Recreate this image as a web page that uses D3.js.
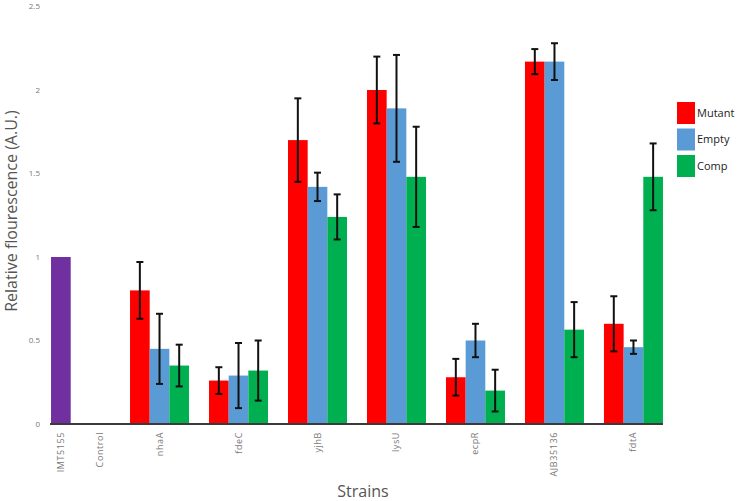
<!DOCTYPE html>
<html>
<head>
<meta charset="utf-8">
<script src="https://cdn.jsdelivr.net/npm/d3@7"></script>
<style>
  html, body { margin: 0; padding: 0; background: #fff; }
  svg { display: block; font-family: "Open Sans", "Noto Sans", sans-serif; }
</style>
</head>
<body>
<svg id="chart" width="744" height="501"></svg>
<script>
// ---- data ----
const groups = ["WT", "nhaA", "fdeC", "yjhB", "lysU", "ecpR", "AJB35136", "fdtA"];
const series = ["Mutant", "Empty", "Comp"];
const seriesColors = ["#FF0000", "#5B9BD5", "#00B050"];
const mutantValues = [null, 0.80, 0.26, 1.70, 2.00, 0.28, 2.17, 0.60];
const mutantErrors = [null, 0.17, 0.08, 0.25, 0.20, 0.11, 0.075, 0.165];
const emptyValues  = [null, 0.45, 0.29, 1.42, 1.89, 0.50, 2.17, 0.46];
const emptyErrors  = [null, 0.21, 0.195, 0.085, 0.32, 0.10, 0.11, 0.04];
const compValues   = [null, 0.35, 0.32, 1.24, 1.48, 0.20, 0.565, 1.48];
const compErrors   = [null, 0.125, 0.18, 0.135, 0.30, 0.125, 0.165, 0.20];
// wild type group: IMT5155 (purple) and Control (no bar)
const wtLabels = ["IMT5155", "Control"];
const wtValues = [1.0, 0];
const wtSlots = ["Mutant", "Comp"];
const wtColor = "#7030A0";
const tickValues = [0, 0.5, 1, 1.5, 2, 2.5];
const tickLabels = ["0", "0.5", "1", "1.5", "2", "2.5"];

// ---- layout ----
const svg = d3.select("#chart");
const x0 = d3.scaleBand().domain(groups).range([41, 673]).paddingInner(0.253).paddingOuter(0.127);
const x1 = d3.scaleBand().domain(series).range([0, x0.bandwidth()]);
const y = d3.scaleLinear().domain([0, 2.5]).range([424, 6.5]);

const valuesBySeries = [mutantValues, emptyValues, compValues];
const errorsBySeries = [mutantErrors, emptyErrors, compErrors];

const records = [];
groups.forEach((g, gi) => {
  series.forEach((s, si) => {
    const v = valuesBySeries[si][gi];
    if (v != null) records.push({g, s, v, e: errorsBySeries[si][gi], c: seriesColors[si]});
  });
});

// bars
svg.append("g").selectAll("rect").data(records).join("rect")
  .attr("x", d => x0(d.g) + x1(d.s))
  .attr("y", d => y(d.v))
  .attr("width", x1.bandwidth())
  .attr("height", d => y(0) - y(d.v))
  .attr("fill", d => d.c);

// wild type bars
const wt = wtLabels.map((l, i) => ({l, v: wtValues[i], s: wtSlots[i]}));
svg.append("g").selectAll("rect").data(wt.filter(d => d.v > 0)).join("rect")
  .attr("x", d => x0("WT") + x1(d.s))
  .attr("y", d => y(d.v))
  .attr("width", x1.bandwidth())
  .attr("height", d => y(0) - y(d.v))
  .attr("fill", wtColor);

// error bars
const eg = svg.append("g").attr("stroke", "#111").attr("stroke-width", 2).attr("fill", "none");
records.forEach(d => {
  const cx = x0(d.g) + x1(d.s) + x1.bandwidth() / 2;
  const top = y(d.v + d.e), bot = y(d.v - d.e);
  eg.append("line").attr("x1", cx).attr("x2", cx).attr("y1", top).attr("y2", bot);
  eg.append("line").attr("x1", cx - 3.5).attr("x2", cx + 3.5).attr("y1", top).attr("y2", top);
  eg.append("line").attr("x1", cx - 3.5).attr("x2", cx + 3.5).attr("y1", bot).attr("y2", bot);
});

// x axis baseline
const xStart = x0(groups[0]);
const xEnd = x0(groups[groups.length - 1]) + x0.bandwidth();
svg.append("line")
  .attr("x1", xStart - 1).attr("x2", xEnd)
  .attr("y1", y(0)).attr("y2", y(0))
  .attr("stroke", "#3a3a3a").attr("stroke-width", 1.8);

// y tick labels
svg.append("g").selectAll("text").data(tickValues).join("text")
  .attr("x", 40)
  .attr("y", d => y(d))
  .attr("dy", "0.35em")
  .attr("text-anchor", "end")
  .attr("font-size", 8)
  .attr("fill", "#777")
  .text((d, i) => tickLabels[i]);

// x category labels (rotated)
const labelData = [];
wt.forEach(d => labelData.push({t: d.l, cx: x0("WT") + x1(d.s) + x1.bandwidth() / 2}));
groups.slice(1).forEach(g => labelData.push({t: g, cx: x0(g) + x0.bandwidth() / 2}));
svg.append("g").selectAll("text").data(labelData).join("text")
  .attr("transform", d => `translate(${d.cx + 3},432) rotate(-90)`)
  .attr("text-anchor", "end")
  .attr("font-size", 9)
  .attr("letter-spacing", 0.6)
  .attr("fill", "#777")
  .text(d => d.t);

// axis titles
svg.append("text")
  .attr("transform", "translate(17,211) rotate(-90)")
  .attr("text-anchor", "middle")
  .attr("font-size", 16)
  .attr("fill", "#555")
  .text("Relative flourescence (A.U.)");

svg.append("text")
  .attr("x", 363).attr("y", 497)
  .attr("text-anchor", "middle")
  .attr("font-size", 16)
  .attr("fill", "#555")
  .text("Strains");

// legend
const lg = svg.append("g").attr("transform", "translate(677,102)");
series.forEach((s, i) => {
  const row = lg.append("g").attr("transform", `translate(0,${i * 26.5})`);
  row.append("rect").attr("width", 18).attr("height", 22).attr("fill", seriesColors[i]);
  row.append("text").attr("x", 20).attr("y", 11).attr("dy", "0.35em")
    .attr("font-size", 11).attr("fill", "#222").text(s);
});
</script>
</body>
</html>
